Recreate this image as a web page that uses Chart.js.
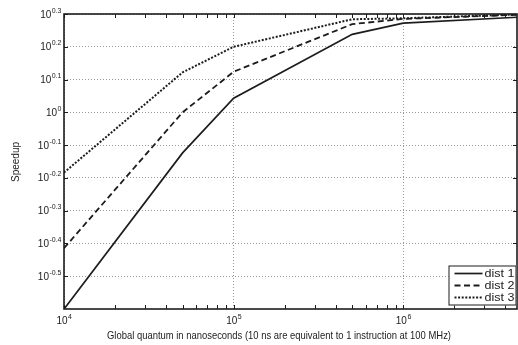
<!DOCTYPE html>
<html>
<head>
<meta charset="utf-8">
<script src="https://cdn.jsdelivr.net/npm/chart.js@4.4.1/dist/chart.umd.min.js"></script>
<style>
html, body { margin: 0; padding: 0; background: #fff; overflow: hidden; }
</style>
</head>
<body>
<canvas id="c" width="518" height="345"></canvas>
<script>
// global quantum (ns) and speedup
var quantum = [1e4, 5e4, 1e5, 5e5, 1e6, 5e6];
var dist1 = [0.251, 0.752, 1.104, 1.730, 1.871, 1.954];
var dist2 = [0.385, 1.000, 1.330, 1.858, 1.928, 1.986];
var dist3 = [0.655, 1.324, 1.585, 1.923, 1.936, 1.991];
var seriesNames = ['dist 1', 'dist 2', 'dist 3'];

// tick labels: 10^exp
var xExp = ['4', '5', '6'];
var yExp = ['-0.5', '-0.4', '-0.3', '-0.2', '-0.1', '0', '0.1', '0.2', '0.3'];

var xMin = 1e4, xMax = 4.68e6;
var yMin = Math.pow(10, -0.6), yMax = Math.pow(10, 0.3);

var ink = '#1c1c1c';
var gridCol = '#9a9a9a';
var FONT = '"Liberation Sans", Arial, sans-serif';

// minor ticks 1..9 per decade on x
var xTicks = [];
xExp.forEach(function (e) {
    var d = Math.pow(10, +e);
    for (var m = 1; m <= 9; m++) {
        if (m * d <= xMax) xTicks.push(m * d);
    }
});
var yTicks = yExp.map(function (e) { return Math.pow(10, +e); });

function isDecade(v) {
    var l = Math.log10(v);
    return Math.abs(l - Math.round(l)) < 1e-9;
}

function toPoints(ys) {
    return quantum.map(function (q, i) { return {x: q, y: ys[i]}; });
}

function drawPow(ctx, exp, x, y, align) {
    // "10" with a raised exponent; align is 'right' or 'center'
    ctx.font = '10px ' + FONT;
    var wb = ctx.measureText('10').width;
    ctx.font = '7px ' + FONT;
    var we = ctx.measureText(exp).width;
    var x0 = align === 'right' ? x - wb - we : x - (wb + we) / 2;
    ctx.textAlign = 'left';
    ctx.textBaseline = 'alphabetic';
    ctx.font = '10px ' + FONT;
    ctx.fillText('10', x0, y);
    ctx.font = '7px ' + FONT;
    ctx.fillText(exp, x0 + wb + 0.5, y - 5);
}

function fitText(ctx, str, x, y, size, width) {
    ctx.font = size + 'px ' + FONT;
    var w = ctx.measureText(str).width;
    ctx.save();
    ctx.translate(x, y);
    ctx.scale(width / w, 1);
    ctx.textAlign = 'left';
    ctx.textBaseline = 'alphabetic';
    ctx.fillText(str, 0, 0);
    ctx.restore();
}

var decorations = {
    id: 'decorations',
    afterDraw: function (chart) {
        var ctx = chart.ctx, ca = chart.chartArea;
        var xs = chart.scales.x, ys = chart.scales.y;
        ctx.save();
        ctx.strokeStyle = ink;
        ctx.fillStyle = ink;

        // inward tick marks
        ctx.lineWidth = 1;
        ctx.beginPath();
        xTicks.forEach(function (v) {
            var px = Math.round(xs.getPixelForValue(v)) + 0.5;
            ctx.moveTo(px, ca.bottom); ctx.lineTo(px, ca.bottom - 4);
            ctx.moveTo(px, ca.top); ctx.lineTo(px, ca.top + 4);
        });
        yTicks.forEach(function (v) {
            var py = Math.round(ys.getPixelForValue(v)) + 0.5;
            ctx.moveTo(ca.left, py); ctx.lineTo(ca.left + 4, py);
            ctx.moveTo(ca.right, py); ctx.lineTo(ca.right - 4, py);
        });
        ctx.stroke();

        // frame
        ctx.lineWidth = 1.6;
        ctx.strokeRect(ca.left, ca.top, ca.right - ca.left, ca.bottom - ca.top);

        // tick labels
        ctx.fillStyle = '#222';
        xExp.forEach(function (e) {
            drawPow(ctx, e, xs.getPixelForValue(Math.pow(10, +e)), ca.bottom + 15, 'center');
        });
        yExp.forEach(function (e) {
            drawPow(ctx, e, ca.left - 3, ys.getPixelForValue(Math.pow(10, +e)) + 3.5, 'right');
        });

        // axis titles
        fitText(ctx, 'Global quantum in nanoseconds (10 ns are equivalent to 1 instruction at 100 MHz)',
            107, 338.5, 10.5, 344);
        ctx.save();
        ctx.translate(18.5, 162);
        ctx.rotate(-Math.PI / 2);
        ctx.font = '10px ' + FONT;
        ctx.textAlign = 'center';
        ctx.textBaseline = 'alphabetic';
        ctx.fillText('Speedup', 0, 0);
        ctx.restore();

        // legend box, lower right inside the axes
        var bw = 68, bh = 40;
        var bx = ca.right - bw - 0.5, by = ca.bottom - bh - 3.5;
        ctx.fillStyle = '#fff';
        ctx.fillRect(bx, by, bw, bh);
        ctx.strokeStyle = ink;
        ctx.lineWidth = 1;
        ctx.strokeRect(bx + 0.5, by + 0.5, bw - 1, bh - 1);
        chart.data.datasets.forEach(function (ds, i) {
            var ry = by + 8 + i * 12;
            ctx.strokeStyle = ds.borderColor;
            ctx.lineWidth = ds.borderWidth;
            ctx.setLineDash(ds.borderDash || []);
            ctx.beginPath();
            ctx.moveTo(bx + 6, ry);
            ctx.lineTo(bx + 34, ry);
            ctx.stroke();
            ctx.setLineDash([]);
            ctx.fillStyle = '#222';
            fitText(ctx, ds.label, bx + 36, ry + 3.5, 10, 30);
        });
        ctx.restore();
    }
};

new Chart(document.getElementById('c'), {
    type: 'line',
    data: {
        datasets: [{
            label: seriesNames[0],
            data: toPoints(dist1),
            borderColor: ink,
            borderWidth: 1.7
        }, {
            label: seriesNames[1],
            data: toPoints(dist2),
            borderColor: ink,
            borderWidth: 1.8,
            borderDash: [6, 3.5]
        }, {
            label: seriesNames[2],
            data: toPoints(dist3),
            borderColor: ink,
            borderWidth: 2,
            borderDash: [2, 1.6]
        }]
    },
    options: {
        responsive: false,
        animation: false,
        devicePixelRatio: 1,
        layout: {padding: {left: 64, top: 14, right: 1, bottom: 36}},
        elements: {
            point: {radius: 0},
            line: {tension: 0, borderCapStyle: 'butt', fill: false}
        },
        plugins: {legend: {display: false}, tooltip: {enabled: false}},
        scales: {
            x: {
                type: 'logarithmic',
                min: xMin,
                max: xMax,
                afterBuildTicks: function (s) {
                    s.ticks = xTicks.map(function (v) { return {value: v}; });
                },
                ticks: {display: false},
                grid: {
                    drawTicks: false,
                    lineWidth: 1,
                    color: function (c) {
                        return c.tick && isDecade(c.tick.value) ? gridCol : 'rgba(0,0,0,0)';
                    }
                },
                border: {display: false, dash: [1, 2]}
            },
            y: {
                type: 'logarithmic',
                min: yMin,
                max: yMax,
                afterBuildTicks: function (s) {
                    s.ticks = yTicks.map(function (v) { return {value: v}; });
                },
                ticks: {display: false},
                grid: {drawTicks: false, lineWidth: 1, color: gridCol},
                border: {display: false, dash: [1, 2]}
            }
        }
    },
    plugins: [decorations]
});
</script>
</body>
</html>
